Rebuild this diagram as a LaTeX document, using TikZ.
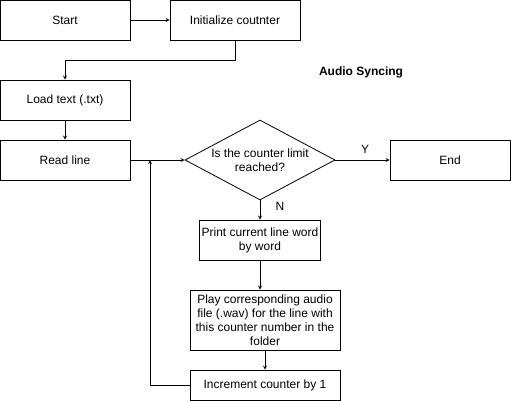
\documentclass[tikz,border=0pt]{standalone}
\usepackage{fontspec}
\setmainfont{Liberation Sans}
\usetikzlibrary{shapes, arrows}
\usetikzlibrary{positioning}

\begin{document}
\begin{tikzpicture}[x=1pt, y=-1pt, line width=0.8pt, >=stealth,
			internal/.style={draw, rectangle, inner sep=2pt},
			decision/.style={draw, diamond, aspect=1.875, inner sep=0pt, minimum width=150pt, minimum height=80pt},
			every node/.style={font=\fontsize{12}{14}\selectfont},
			every text node part/.style={align=center}]
			\useasboundingbox (0,0) rectangle (511,401);
			\node[internal, minimum width=130pt, minimum height=40pt](start) at (65, 20) {Start};
			\node[internal, minimum width=130pt, minimum height=40pt](init) at (235, 20) {Initialize coutnter};
			\draw[->] (start.east) -- (init.west);
			
			\node[internal, minimum width=130pt, minimum height=40pt](load) at (65, 100) {Load text (.txt)};
			\draw[->] (init.south) -- ++(0, 20) -| (load.north);
			
			\node[internal, minimum width=130pt, minimum height=40pt](read) at (65, 160) {Read line};
			\draw[->] (load) -- (read);
			
			\node[font=\fontsize{12}{14}\selectfont\bfseries](title) at (361, 72) {Audio Syncing};
			
			\node[decision](check) at (260, 160) {Is the counter limit\\reached?};
			\draw[->] (read.east) -- (check.west);
			
			\node[internal, minimum width=120pt, minimum height=40pt](end) at (450, 160) {End};
			\draw[->] (check.east) -- (end.west) node[pos=0.55, above=3pt] {Y};
			
			\node[internal, minimum width=120pt, minimum height=40pt](print) at (260, 240) {Print current line word\\by word};
			\draw[->] (check.south) -- (print.north) node[pos=0.3, right=12pt] {N};
			
			\node[internal, minimum width=150pt, minimum height=60pt](play) at (265, 320) {Play corresponding audio\\file (.wav) for the line with\\this counter number in the\\folder};
			\draw[->] (print.south) -- (print.south |- play.north);
			
			\node[internal, minimum width=150pt, minimum height=30pt](incr) at (265, 385) {Increment counter by 1};
			\draw[->] (play.south) -- (incr.north);
			
			\coordinate (back) at (150, 160);
			\draw[->] (incr.west) -| (back);
			\end{tikzpicture}
\end{document}
